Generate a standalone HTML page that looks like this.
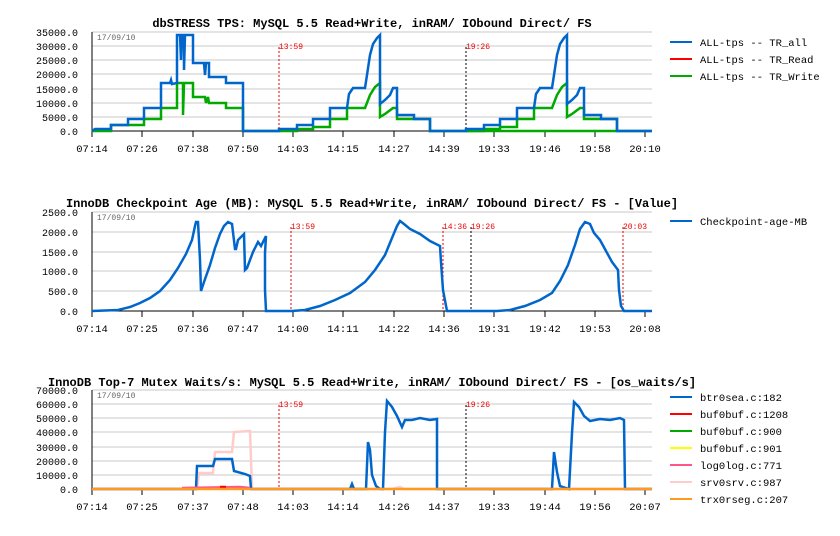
<!DOCTYPE html>
<html><head><meta charset="utf-8"><style>
body{margin:0;background:#fff}
svg{display:block;font-family:"Liberation Mono","DejaVu Sans Mono",monospace}
.t{font-size:12px;font-weight:bold;fill:#000}
.yl{font-size:10px;fill:#000;text-anchor:end}
.xl{font-size:10.5px;fill:#000;text-anchor:middle}
.lg{font-size:10.5px;fill:#000}
.d{font-size:8px;fill:#666}
.m{font-size:8px;fill:#e00}
.g{stroke:#c8c8c8;stroke-width:1}
.ax{stroke:#000;stroke-width:1}
.mk{stroke:#000;stroke-width:1;stroke-dasharray:2,2}
polyline{fill:none;stroke-width:2.5;stroke-linejoin:miter}
</style></head><body>
<svg width="840" height="536" viewBox="0 0 840 536">
<!-- Chart 1 -->
<text x="372" y="27" class="t" text-anchor="middle">dbSTRESS TPS: MySQL 5.5 Read+Write, inRAM/ IObound Direct/ FS</text>
<g>
<line class="g" x1="92" x2="652" y1="32" y2="32"/><line class="g" x1="92" x2="652" y1="46" y2="46"/><line class="g" x1="92" x2="652" y1="60" y2="60"/><line class="g" x1="92" x2="652" y1="74" y2="74"/><line class="g" x1="92" x2="652" y1="89" y2="89"/><line class="g" x1="92" x2="652" y1="103" y2="103"/><line class="g" x1="92" x2="652" y1="117" y2="117"/>
<text class="yl" x="78" y="36">35000.0</text><text class="yl" x="78" y="50">30000.0</text><text class="yl" x="78" y="64">25000.0</text><text class="yl" x="78" y="78">20000.0</text><text class="yl" x="78" y="93">15000.0</text><text class="yl" x="78" y="107">10000.0</text><text class="yl" x="78" y="121">5000.0</text><text class="yl" x="78" y="135">0.0</text>
<line class="ax" x1="92" x2="92" y1="32" y2="136"/><line class="ax" x1="92" x2="652" y1="131" y2="131"/>
<text class="d" x="97" y="40">17/09/10</text>
<line class="mk" x1="279" x2="279" y1="47" y2="131" style="stroke:#e00"/><text class="m" x="279" y="49">13:59</text>
<line class="mk" x1="466" x2="466" y1="47" y2="131"/><text class="m" x="466" y="49">19:26</text>
<g class="ax">
<line x1="92" x2="92" y1="131" y2="137"/><line x1="142" x2="142" y1="131" y2="137"/><line x1="193" x2="193" y1="131" y2="137"/><line x1="243" x2="243" y1="131" y2="137"/><line x1="293" x2="293" y1="131" y2="137"/><line x1="343" x2="343" y1="131" y2="137"/><line x1="394" x2="394" y1="131" y2="137"/><line x1="444" x2="444" y1="131" y2="137"/><line x1="494" x2="494" y1="131" y2="137"/><line x1="545" x2="545" y1="131" y2="137"/><line x1="595" x2="595" y1="131" y2="137"/><line x1="645" x2="645" y1="131" y2="137"/>
</g>
<text class="xl" x="92" y="152">07:14</text><text class="xl" x="142" y="152">07:26</text><text class="xl" x="193" y="152">07:38</text><text class="xl" x="243" y="152">07:50</text><text class="xl" x="293" y="152">14:03</text><text class="xl" x="343" y="152">14:15</text><text class="xl" x="394" y="152">14:27</text><text class="xl" x="444" y="152">14:39</text><text class="xl" x="494" y="152">19:33</text><text class="xl" x="545" y="152">19:46</text><text class="xl" x="595" y="152">19:58</text><text class="xl" x="645" y="152">20:10</text>
<polyline stroke="#00aa00" points="92,131 111,131 111,125 144,125 144,119 161,119 161,108 177,108 177,83 183,83 183,115 184,83 193,83 193,97 205,97 206,103 208,97 209,103 226,103 226,108 243,108 243,131 279,131 297,131 297,129 313,129 313,127 330,127 330,119 347,119 347,108 365,108 370,95 375,87 380,83 380,117 385,114 393,108 397,108 397,119 430,119 430,131 617,131 652,131"/>
<polyline stroke="#00aa00" points="466,131 484,131 484,129 500,129 500,127 517,127 517,119 534,119 534,108 552,108 557,95 562,87 567,83 567,117 572,114 580,108 584,108 584,119 617,119 617,131"/>
<polyline stroke="#0066cc" points="92,131 95,129 111,129 111,125 128,125 128,119 144,119 144,108 161,108 161,83 170,83 171,80 172,84 177,83 177,35 180,35 181,60 182,35 184,35 184,70 185,35 193,35 193,63 204,63 205,75 206,63 209,63 209,77 226,77 226,83 243,83 243,131 279,131 279,129 297,129 297,125 313,125 313,119 330,119 330,108 347,108 349,94 353,88 365,88 367,75 370,55 373,44 377,38 380,35 380,104 385,100 390,95 393,88 397,88 397,115 414,115 414,119 430,119 430,131 466,131 466,129 484,129 484,125 500,125 500,119 517,119 517,108 534,108 536,94 540,88 552,88 554,75 557,55 560,44 564,38 567,35 567,104 572,100 577,95 580,88 584,88 584,115 601,115 601,119 617,119 617,131 652,131"/>
<line x1="670" x2="692" y1="42" y2="42" stroke="#0066cc" stroke-width="2"/><text class="lg" x="700" y="46">ALL-tps -- TR_all</text>
<line x1="670" x2="692" y1="59" y2="59" stroke="#ff0000" stroke-width="2"/><text class="lg" x="700" y="63">ALL-tps -- TR_Read</text>
<line x1="670" x2="692" y1="76" y2="76" stroke="#00aa00" stroke-width="2"/><text class="lg" x="700" y="80">ALL-tps -- TR_Write</text>
</g>

<!-- Chart 2 -->
<text x="372" y="207" class="t" text-anchor="middle">InnoDB Checkpoint Age (MB): MySQL 5.5 Read+Write, inRAM/ IObound Direct/ FS - [Value]</text>
<g>
<line class="g" x1="92" x2="652" y1="212" y2="212"/><line class="g" x1="92" x2="652" y1="232" y2="232"/><line class="g" x1="92" x2="652" y1="252" y2="252"/><line class="g" x1="92" x2="652" y1="271" y2="271"/><line class="g" x1="92" x2="652" y1="291" y2="291"/>
<text class="yl" x="78" y="216">2500.0</text><text class="yl" x="78" y="236">2000.0</text><text class="yl" x="78" y="256">1500.0</text><text class="yl" x="78" y="275">1000.0</text><text class="yl" x="78" y="295">500.0</text><text class="yl" x="78" y="315">0.0</text>
<line class="ax" x1="92" x2="92" y1="212" y2="316"/><line class="ax" x1="92" x2="652" y1="311" y2="311"/>
<text class="d" x="97" y="220">17/09/10</text>
<line class="mk" x1="291" x2="291" y1="227" y2="311" style="stroke:#e00"/><text class="m" x="291" y="229">13:59</text>
<line class="mk" x1="443" x2="443" y1="227" y2="311" style="stroke:#e00"/><text class="m" x="443" y="229">14:36</text>
<line class="mk" x1="471" x2="471" y1="227" y2="311"/><text class="m" x="471" y="229">19:26</text>
<line class="mk" x1="623" x2="623" y1="227" y2="311" style="stroke:#e00"/><text class="m" x="623" y="229">20:03</text>
<g class="ax">
<line x1="92" x2="92" y1="311" y2="317"/><line x1="142" x2="142" y1="311" y2="317"/><line x1="193" x2="193" y1="311" y2="317"/><line x1="243" x2="243" y1="311" y2="317"/><line x1="293" x2="293" y1="311" y2="317"/><line x1="343" x2="343" y1="311" y2="317"/><line x1="394" x2="394" y1="311" y2="317"/><line x1="444" x2="444" y1="311" y2="317"/><line x1="494" x2="494" y1="311" y2="317"/><line x1="545" x2="545" y1="311" y2="317"/><line x1="595" x2="595" y1="311" y2="317"/><line x1="645" x2="645" y1="311" y2="317"/>
</g>
<text class="xl" x="92" y="332">07:14</text><text class="xl" x="142" y="332">07:25</text><text class="xl" x="193" y="332">07:36</text><text class="xl" x="243" y="332">07:47</text><text class="xl" x="293" y="332">14:00</text><text class="xl" x="343" y="332">14:11</text><text class="xl" x="394" y="332">14:22</text><text class="xl" x="444" y="332">14:36</text><text class="xl" x="494" y="332">19:31</text><text class="xl" x="545" y="332">19:42</text><text class="xl" x="595" y="332">19:53</text><text class="xl" x="645" y="332">20:08</text>
<polyline stroke="#0066cc" points="92,311 118,310 130,307 140,303 150,298 160,291 170,280 178,268 186,254 192,240 195,226 196,222 198,222 200,260 201,291 204,282 210,265 215,248 220,234 224,226 228,222 232,224 235,249 236,249 238,240 244,234 245,270 247,268 253,252 258,242 261,246 266,236 265,253 265,290 266,311 292,311 305,310 320,306 335,300 350,293 365,282 375,270 385,255 392,238 397,226 400,221 404,224 410,229 420,234 430,241 440,246 441,262 443,290 447,311 497,311 510,310 525,306 540,300 552,293 560,281 568,265 575,245 580,229 585,222 590,224 594,233 600,240 606,251 612,262 618,270 619,290 621,306 624,311 652,311"/>
<line x1="670" x2="692" y1="221" y2="221" stroke="#0066cc" stroke-width="2"/><text class="lg" x="700" y="225">Checkpoint-age-MB</text>
</g>

<!-- Chart 3 -->
<text x="372" y="386" class="t" text-anchor="middle">InnoDB Top-7 Mutex Waits/s: MySQL 5.5 Read+Write, inRAM/ IObound Direct/ FS - [os_waits/s]</text>
<g>
<line class="g" x1="92" x2="652" y1="390" y2="390"/><line class="g" x1="92" x2="652" y1="404" y2="404"/><line class="g" x1="92" x2="652" y1="418" y2="418"/><line class="g" x1="92" x2="652" y1="432" y2="432"/><line class="g" x1="92" x2="652" y1="447" y2="447"/><line class="g" x1="92" x2="652" y1="461" y2="461"/><line class="g" x1="92" x2="652" y1="475" y2="475"/>
<text class="yl" x="78" y="394">70000.0</text><text class="yl" x="78" y="408">60000.0</text><text class="yl" x="78" y="422">50000.0</text><text class="yl" x="78" y="436">40000.0</text><text class="yl" x="78" y="451">30000.0</text><text class="yl" x="78" y="465">20000.0</text><text class="yl" x="78" y="479">10000.0</text><text class="yl" x="78" y="493">0.0</text>
<line class="ax" x1="92" x2="92" y1="390" y2="494"/><line class="ax" x1="92" x2="652" y1="489" y2="489"/>
<text class="d" x="97" y="398">17/09/10</text>
<line class="mk" x1="279" x2="279" y1="405" y2="489" style="stroke:#e00"/><text class="m" x="279" y="407">13:59</text>
<line class="mk" x1="466" x2="466" y1="405" y2="489"/><text class="m" x="466" y="407">19:26</text>
<g class="ax">
<line x1="92" x2="92" y1="489" y2="495"/><line x1="142" x2="142" y1="489" y2="495"/><line x1="193" x2="193" y1="489" y2="495"/><line x1="243" x2="243" y1="489" y2="495"/><line x1="293" x2="293" y1="489" y2="495"/><line x1="343" x2="343" y1="489" y2="495"/><line x1="394" x2="394" y1="489" y2="495"/><line x1="444" x2="444" y1="489" y2="495"/><line x1="494" x2="494" y1="489" y2="495"/><line x1="545" x2="545" y1="489" y2="495"/><line x1="595" x2="595" y1="489" y2="495"/><line x1="645" x2="645" y1="489" y2="495"/>
</g>
<text class="xl" x="92" y="510">07:14</text><text class="xl" x="142" y="510">07:25</text><text class="xl" x="193" y="510">07:37</text><text class="xl" x="243" y="510">07:48</text><text class="xl" x="293" y="510">14:03</text><text class="xl" x="343" y="510">14:14</text><text class="xl" x="394" y="510">14:26</text><text class="xl" x="444" y="510">14:37</text><text class="xl" x="494" y="510">19:33</text><text class="xl" x="545" y="510">19:44</text><text class="xl" x="595" y="510">19:56</text><text class="xl" x="645" y="510">20:07</text>
<polyline stroke="#ffcccc" points="92,489 197,489 199,473 213,473 215,452 232,452 234,432 250,431 252,489 392,489 400,487 404,489 652,489"/>
<polyline stroke="#0066cc" points="92,489 196,489 197,466 213,466 215,459 232,459 234,471 245,474 250,476 251,489 350,489 352,484 354,489 366,489 368,442 370,450 372,475 376,486 380,489 383,489 385,432 387,401 392,407 397,416 402,427 405,420 412,420 420,418 430,420 437,419 437,489 552,489 554,452 557,472 560,486 569,489 572,433 574,402 579,407 584,416 590,421 600,419 610,420 620,418 624,420 625,489 652,489"/>
<polyline stroke="#ff5588" points="182,488 240,487 250,488"/>
<polyline stroke="#ff0000" points="220,487 226,487"/>
<polyline stroke="#ff9922" points="92,489 652,489"/>
<line x1="670" x2="692" y1="397" y2="397" stroke="#0066cc" stroke-width="2"/><text class="lg" x="700" y="401">btr0sea.c:182</text>
<line x1="670" x2="692" y1="414" y2="414" stroke="#ff0000" stroke-width="2"/><text class="lg" x="700" y="418">buf0buf.c:1208</text>
<line x1="670" x2="692" y1="431" y2="431" stroke="#00aa00" stroke-width="2"/><text class="lg" x="700" y="435">buf0buf.c:900</text>
<line x1="670" x2="692" y1="448" y2="448" stroke="#ffff00" stroke-width="2"/><text class="lg" x="700" y="452">buf0buf.c:901</text>
<line x1="670" x2="692" y1="465" y2="465" stroke="#ff5588" stroke-width="2"/><text class="lg" x="700" y="469">log0log.c:771</text>
<line x1="670" x2="692" y1="482" y2="482" stroke="#ffcccc" stroke-width="2"/><text class="lg" x="700" y="486">srv0srv.c:987</text>
<line x1="670" x2="692" y1="499" y2="499" stroke="#ff9922" stroke-width="2"/><text class="lg" x="700" y="503">trx0rseg.c:207</text>
</g>
</svg>
</body></html>
